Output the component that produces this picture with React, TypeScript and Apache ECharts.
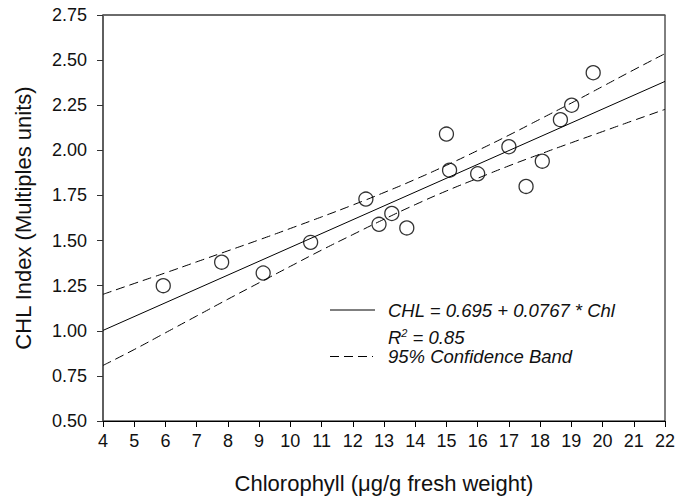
import React, { useEffect, useRef } from "react";
import * as echarts from "echarts";

const chlX = [5.93, 7.8, 9.13, 10.65, 12.42, 12.84, 13.25, 13.73, 15.0, 15.1, 16.0, 17.0, 17.55, 18.07, 18.65, 19.01, 19.7];
const chlIndex = [1.25, 1.38, 1.32, 1.49, 1.73, 1.59, 1.65, 1.57, 2.09, 1.89, 1.87, 2.02, 1.8, 1.94, 2.17, 2.25, 2.43];

const fitX = [4, 22];
const fitY = [1.002, 2.382];

const bandX = [4, 5, 6, 7, 8, 9, 10, 11, 12, 13, 14, 15, 16, 17, 18, 19, 20, 21, 22];
const bandUpper = [1.202, 1.262, 1.321, 1.382, 1.443, 1.504, 1.567, 1.631, 1.697, 1.766, 1.839, 1.917, 1.999, 2.084, 2.173, 2.262, 2.354, 2.446, 2.536];
const bandLower = [0.808, 0.896, 0.989, 1.082, 1.175, 1.266, 1.357, 1.447, 1.533, 1.618, 1.699, 1.775, 1.845, 1.914, 1.979, 2.042, 2.104, 2.166, 2.227];

const xTitle = "Chlorophyll (\u03bcg/g fresh weight)";
const yTitle = "CHL Index (Multiples units)";
const eqText = "CHL = 0.695 + 0.0767 * Chl";
const r2Value = "0.85";
const bandText = "95% Confidence Band";

const FONT = 'Arial, "Liberation Sans", sans-serif';

export default function App() {
  const ref = useRef<HTMLDivElement>(null);
  useEffect(() => {
    if (!ref.current) return;
    const chart = echarts.init(ref.current, null, { renderer: "svg" });
    const pts = chlX.map((x, i) => [x, chlIndex[i]]);
    const fit = fitX.map((x, i) => [x, fitY[i]]);
    const up = bandX.map((x, i) => [x, bandUpper[i]]);
    const lo = bandX.map((x, i) => [x, bandLower[i]]);
    const dash = { color: "#000", width: 1, type: [9, 5] as any };
    chart.setOption({
      animation: false,
      backgroundColor: "#fff",
      textStyle: { fontFamily: FONT },
      grid: { left: 103, right: 27, top: 15, bottom: 78, show: true, borderColor: "#000", borderWidth: 1 },
      xAxis: [
        {
          type: "value",
          min: 4,
          max: 22,
          interval: 1,
          name: xTitle,
          nameLocation: "middle",
          nameGap: 51,
          nameTextStyle: { fontSize: 22, color: "#111", fontFamily: FONT },
          axisLine: { lineStyle: { color: "#000", width: 1 } },
          axisTick: { show: true, length: 6, lineStyle: { color: "#000" } },
          axisLabel: { fontSize: 18, color: "#111", margin: 11, fontFamily: FONT },
          splitLine: { show: false },
        },
        {
          type: "value",
          position: "top",
          min: 4,
          max: 22,
          axisLine: { show: true, lineStyle: { color: "#666", width: 1.5 } },
          axisTick: { show: false },
          axisLabel: { show: false },
          splitLine: { show: false },
        },
      ],
      yAxis: {
        type: "value",
        min: 0.5,
        max: 2.75,
        interval: 0.25,
        name: yTitle,
        nameLocation: "middle",
        nameGap: 69,
        nameTextStyle: { fontSize: 22, color: "#111", fontFamily: FONT },
        axisLine: { show: true, lineStyle: { color: "#555", width: 1.5 } },
        axisTick: { show: true, length: 6, lineStyle: { color: "#333" } },
        axisLabel: { fontSize: 18, color: "#111", margin: 16, fontFamily: FONT, formatter: (v: number) => v.toFixed(2) },
        splitLine: { show: false },
      },
      series: [
        { type: "line", data: fit, showSymbol: false, lineStyle: { color: "#000", width: 1 }, silent: true },
        { type: "line", data: up, showSymbol: false, smooth: true, lineStyle: dash, silent: true },
        { type: "line", data: lo, showSymbol: false, smooth: true, lineStyle: dash, silent: true },
        {
          type: "scatter",
          data: pts,
          symbol: "circle",
          symbolSize: 14,
          itemStyle: { color: "rgba(0,0,0,0)", borderColor: "#000", borderWidth: 1.3 },
          z: 5,
        },
      ],
      graphic: [
        { type: "line", shape: { x1: 330, y1: 310, x2: 375, y2: 310 }, style: { stroke: "#000", lineWidth: 1 } },
        { type: "line", shape: { x1: 330, y1: 356.5, x2: 373, y2: 356.5 }, style: { stroke: "#000", lineWidth: 1, lineDash: [9, 5] } },
        {
          type: "text",
          x: 388,
          y: 310,
          style: { text: eqText, font: `italic 18.5px ${FONT}`, fill: "#111", verticalAlign: "middle" },
        },
        {
          type: "text",
          x: 388,
          y: 337,
          style: {
            text: "{r|R}{s|2}{r| = " + r2Value + "}",
            verticalAlign: "middle",
            fill: "#111",
            rich: {
              r: { fontSize: 18.5, fontStyle: "italic", fontFamily: FONT, fill: "#111" },
              s: { fontSize: 11, fontStyle: "italic", fontFamily: FONT, verticalAlign: "top", padding: [0, 0, 9, 0], fill: "#111" },
            },
          },
        },
        {
          type: "text",
          x: 388,
          y: 356.5,
          style: { text: bandText, font: `italic 18.5px ${FONT}`, fill: "#111", verticalAlign: "middle" },
        },
      ],
    });
    return () => chart.dispose();
  }, []);
  return <div ref={ref} style={{ width: 692, height: 499, position: "absolute", left: 0, top: 0 }} />;
}
